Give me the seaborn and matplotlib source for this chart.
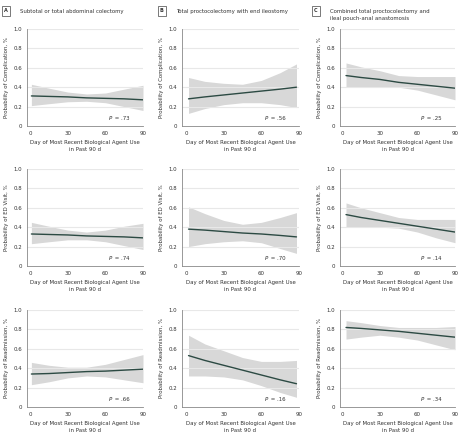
import matplotlib
matplotlib.use("Agg")
import matplotlib.pyplot as plt
import seaborn as sns
import pandas as pd

days_a = [1, 15, 30, 45, 60, 75, 90]
days_b = [2, 15, 30, 45, 60, 75, 88]
days_c = [3, 15, 30, 45, 60, 75, 90]

panel_titles = ["Subtotal or total abdominal colectomy",
                "Total proctocolectomy with end ileostomy",
                "Combined total proctocolectomy and\nileal pouch-anal anastomosis"]
panel_letters = ["A", "B", "C"]
outcomes = ["Complication", "ED Visit", "Readmission"]

# complication
comp_a_fit = [0.31, 0.305, 0.30, 0.29, 0.285, 0.28, 0.27]
comp_a_lo = [0.21, 0.23, 0.25, 0.255, 0.24, 0.20, 0.16]
comp_a_hi = [0.43, 0.39, 0.35, 0.33, 0.34, 0.38, 0.42]
comp_b_fit = [0.28, 0.30, 0.32, 0.34, 0.36, 0.38, 0.40]
comp_b_lo = [0.13, 0.18, 0.22, 0.24, 0.24, 0.22, 0.19]
comp_b_hi = [0.50, 0.46, 0.44, 0.43, 0.47, 0.55, 0.64]
comp_c_fit = [0.52, 0.50, 0.48, 0.45, 0.43, 0.41, 0.39]
comp_c_lo = [0.40, 0.40, 0.40, 0.40, 0.37, 0.32, 0.27]
comp_c_hi = [0.65, 0.61, 0.57, 0.52, 0.51, 0.51, 0.51]

# ED visit
ed_a_fit = [0.33, 0.325, 0.32, 0.31, 0.305, 0.30, 0.29]
ed_a_lo = [0.23, 0.25, 0.27, 0.27, 0.25, 0.21, 0.17]
ed_a_hi = [0.45, 0.41, 0.37, 0.35, 0.37, 0.41, 0.44]
ed_b_fit = [0.38, 0.37, 0.355, 0.34, 0.33, 0.315, 0.30]
ed_b_lo = [0.20, 0.23, 0.25, 0.26, 0.24, 0.18, 0.13]
ed_b_hi = [0.61, 0.54, 0.47, 0.43, 0.45, 0.50, 0.55]
ed_c_fit = [0.53, 0.50, 0.47, 0.44, 0.41, 0.38, 0.35]
ed_c_lo = [0.40, 0.40, 0.40, 0.39, 0.35, 0.29, 0.24]
ed_c_hi = [0.65, 0.60, 0.55, 0.50, 0.48, 0.48, 0.48]

# readmission
re_a_fit = [0.34, 0.345, 0.355, 0.365, 0.37, 0.38, 0.39]
re_a_lo = [0.23, 0.26, 0.30, 0.32, 0.31, 0.28, 0.25]
re_a_hi = [0.46, 0.43, 0.41, 0.41, 0.44, 0.49, 0.54]
re_b_fit = [0.53, 0.48, 0.43, 0.38, 0.33, 0.28, 0.24]
re_b_lo = [0.32, 0.32, 0.31, 0.28, 0.22, 0.15, 0.10]
re_b_hi = [0.74, 0.65, 0.58, 0.51, 0.47, 0.47, 0.48]
re_c_fit = [0.82, 0.81, 0.795, 0.78, 0.76, 0.74, 0.72]
re_c_lo = [0.70, 0.72, 0.74, 0.72, 0.69, 0.64, 0.59]
re_c_hi = [0.89, 0.87, 0.84, 0.82, 0.82, 0.82, 0.83]

p_values = [["P = .73", "P = .56", "P = .25"],
            ["P = .74", "P = .70", "P = .14"],
            ["P = .66", "P = .16", "P = .34"]]

days = [days_a, days_b, days_c]
fits = [[comp_a_fit, comp_b_fit, comp_c_fit],
        [ed_a_fit, ed_b_fit, ed_c_fit],
        [re_a_fit, re_b_fit, re_c_fit]]
lows = [[comp_a_lo, comp_b_lo, comp_c_lo],
        [ed_a_lo, ed_b_lo, ed_c_lo],
        [re_a_lo, re_b_lo, re_c_lo]]
highs = [[comp_a_hi, comp_b_hi, comp_c_hi],
         [ed_a_hi, ed_b_hi, ed_c_hi],
         [re_a_hi, re_b_hi, re_c_hi]]

sns.set_theme(style="white")
plt.rcParams['font.family'] = ['DejaVu Sans']
plt.rcParams['font.stretch'] = 'condensed'
FS = 4.3

fig = plt.figure(figsize=(4.68, 4.38), dpi=100)

col_left = [27 / 468, 182 / 468, 340 / 468]
col_width = [116 / 468, 117 / 468, 115 / 468]
row_bottom = [1 - 126 / 438, 1 - 266 / 438, 1 - 407 / 438]
row_height = 97 / 438
xmin = [-2.5, -3.2, -1.8]

line_color = "#2c4a43"
band_color = "#d8d8d8"
grid_color = "#e8e8e8"
text_color = "#333333"

for r in range(3):
    for c in range(3):
        ax = fig.add_axes([col_left[c], row_bottom[r], col_width[c], row_height])
        df = pd.DataFrame({"day": days[c], "fit": fits[r][c],
                           "lo": lows[r][c], "hi": highs[r][c]})
        ax.fill_between(df["day"], df["lo"], df["hi"], color=band_color,
                        linewidth=0, zorder=1)
        for yv in [0.2, 0.4, 0.6, 0.8, 1.0]:
            ax.axhline(yv, color=grid_color, lw=0.8, zorder=2)
        sns.lineplot(data=df, x="day", y="fit", ax=ax, color=line_color,
                     lw=1.0, zorder=3)
        ax.set_xlim(xmin[c], 90)
        ax.set_ylim(0, 1.0)
        ax.set_xticks([0, 30, 60, 90])
        ax.set_yticks([0, 0.2, 0.4, 0.6, 0.8, 1.0])
        ax.set_yticklabels(["0", "0.2", "0.4", "0.6", "0.8", "1.0"])
        for s in ["top", "right"]:
            ax.spines[s].set_visible(False)
        for s in ["left", "bottom"]:
            ax.spines[s].set_color("#888888")
            ax.spines[s].set_linewidth(0.6)
        ax.tick_params(axis="both", length=2, width=0.5, color="#888888",
                       labelsize=FS, labelcolor=text_color, pad=1.5)
        ax.set_xlabel("Day of Most Recent Biological Agent Use\nin Past 90 d",
                      fontsize=FS, color=text_color, labelpad=3, linespacing=1.45)
        ax.set_ylabel(f"Probability of {outcomes[r]}, %", fontsize=FS,
                      color=text_color, labelpad=3)
        ptxt = p_values[r][c]
        ax.text(63, 0.08, ptxt[0], fontsize=FS, style="italic",
                color=text_color, ha="left", va="center")
        ax.text(66, 0.08, ptxt[1:], fontsize=FS, color=text_color,
                ha="left", va="center")
        if r == 0:
            title_x = [4 / 468, 160 / 468, 314 / 468][c]
            fig.text(title_x, 1 - 11 / 438, panel_letters[c], fontsize=4.0,
                     fontweight="bold", color=text_color, ha="left", va="center",
                     bbox=dict(boxstyle="square,pad=0.4", fc="white",
                               ec="#444444", lw=0.5))
            fig.text(title_x + 16 / 468, 1 - 11 / 438 if c < 2 else 1 - 15 / 438,
                     panel_titles[c], fontsize=FS, color=text_color,
                     ha="left", va="center", linespacing=1.45)

fig.savefig("out.png", dpi=100)
